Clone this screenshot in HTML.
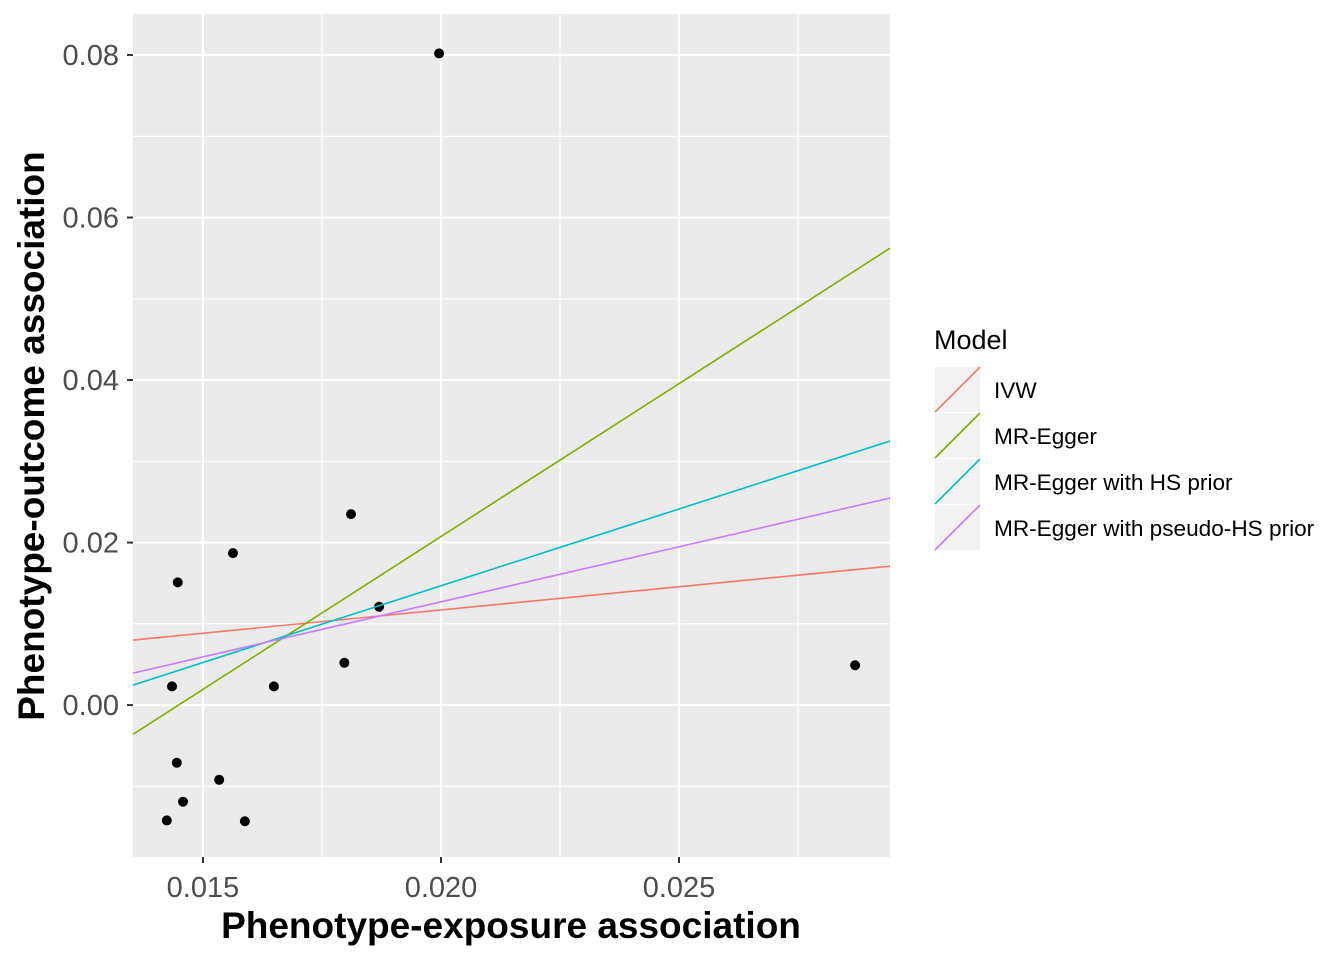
<!DOCTYPE html>
<html><head><meta charset="utf-8"><style>
body{margin:0;background:#fff;}
svg text{font-family:"Liberation Sans",Arial,sans-serif;}
</style></head><body>
<svg id="chart" width="1344" height="960" xmlns="http://www.w3.org/2000/svg">
<rect width="1344" height="960" fill="#fff"/>
<g id="panel"></g>
<g id="axes"></g>
<g id="legend"></g>
</svg>
<script>
const xs = [0.01996,0.02870,0.01811,0.01563,0.01447,0.01870,0.01797,0.01649,0.01435,0.01445,0.01534,0.01458,0.01424,0.01588];
const ys = [0.0802,0.0049,0.0235,0.0187,0.0151,0.0121,0.0052,0.0023,0.0023,-0.0071,-0.0092,-0.0119,-0.0142,-0.0143];
const models = ["IVW","MR-Egger","MR-Egger with HS prior","MR-Egger with pseudo-HS prior"];
const intercepts = [0.00026,-0.0545,-0.0231,-0.0144];
const slopes = [0.572,3.762,1.889,1.355];
const colors = ["#F8766D","#7CAE00","#00BFC4","#C77CFF"];
const xTicks = [0.015,0.020,0.025];
const xTickLabels = ["0.015","0.020","0.025"];
const xMinor = [0.0125,0.0175,0.0225,0.0275];
const yTicks = [0,0.02,0.04,0.06,0.08];
const yTickLabels = ["0.00","0.02","0.04","0.06","0.08"];
const yMinor = [-0.01,0.01,0.03,0.05,0.07];

const NS="http://www.w3.org/2000/svg";
const L=133,R=890,T=14,B=857;
const xMin=0.01353,xMax=0.029433,yMin=-0.0187,yMax=0.08505;
const sx=v=>L+(v-xMin)/(xMax-xMin)*(R-L);
const sy=v=>B-(v-yMin)/(yMax-yMin)*(B-T);
function mk(tag,attrs,parent){const e=document.createElementNS(NS,tag);for(const k in attrs)e.setAttribute(k,attrs[k]);parent.appendChild(e);return e;}
const panel=document.getElementById('panel'),axes=document.getElementById('axes'),legend=document.getElementById('legend');
const bg=mk('rect',{x:L,y:T,width:R-L,height:B-T,fill:'#EBEBEB'},panel);


xMinor.forEach(v=>{const e=mk('line',{x1:sx(v),x2:sx(v),y1:T,y2:B,stroke:'#fff','stroke-width':1.1},panel);

});
yMinor.forEach(v=>{const e=mk('line',{x1:L,x2:R,y1:sy(v),y2:sy(v),stroke:'#fff','stroke-width':1.1},panel);

});
xTicks.forEach((v,i)=>{const e=mk('line',{x1:sx(v),x2:sx(v),y1:T,y2:B,stroke:'#fff','stroke-width':2.2},panel);


const t=mk('line',{x1:sx(v),x2:sx(v),y1:B,y2:B+6,stroke:'#333','stroke-width':2},axes);


const l=mk('text',{x:sx(v),y:B+40,'text-anchor':'middle','font-size':29,fill:'#4D4D4D'},axes);l.textContent=xTickLabels[i];

});
yTicks.forEach((v,i)=>{const e=mk('line',{x1:L,x2:R,y1:sy(v),y2:sy(v),stroke:'#fff','stroke-width':2.2},panel);


const t=mk('line',{x1:L-6,x2:L,y1:sy(v),y2:sy(v),stroke:'#333','stroke-width':2},axes);


const l=mk('text',{x:L-14,y:sy(v)+10,'text-anchor':'end','font-size':29,fill:'#4D4D4D'},axes);l.textContent=yTickLabels[i];

});
xs.forEach((v,i)=>{const c=mk('circle',{cx:sx(v),cy:sy(ys[i]),r:5,fill:'#000'},panel);

});
models.forEach((m,i)=>{const y1=intercepts[i]+slopes[i]*xMin,y2=intercepts[i]+slopes[i]*xMax;
const ln=mk('line',{x1:L,y1:sy(y1),x2:R,y2:sy(y2),stroke:colors[i],'stroke-width':1.6},panel);


const ky=367+i*46;
const k=mk('rect',{x:935,y:ky,width:45,height:45,fill:'#F2F2F2'},legend);


const kl=mk('line',{x1:935,y1:ky+45,x2:980,y2:ky,stroke:colors[i],'stroke-width':1.6},legend);


const t=mk('text',{x:994,y:ky+31,'font-size':22.6,fill:'#000'},legend);t.textContent=m;

});
const lt=mk('text',{x:934,y:349,'font-size':27,fill:'#000'},legend);lt.textContent='Model';


const xt=mk('text',{x:511,y:938,'text-anchor':'middle','font-size':37,'font-weight':'bold',fill:'#000'},axes);xt.textContent='Phenotype-exposure association';


const yt=mk('text',{x:0,y:0,'text-anchor':'middle','font-size':37,'font-weight':'bold',fill:'#000',transform:'translate(44,436) rotate(-90)'},axes);yt.textContent='Phenotype-outcome association';


</script>
</body></html>
